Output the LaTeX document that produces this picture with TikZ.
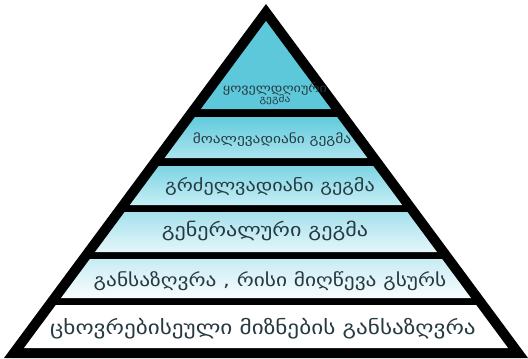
\documentclass[tikz,border=0pt]{standalone}
\usepackage{fontspec}
\newfontfamily\geofont{DejaVu Sans}
\definecolor{txt}{RGB}{38,58,66}
\definecolor{lay1}{RGB}{92,200,218}
\definecolor{lay2t}{RGB}{98,203,220}
\definecolor{lay2b}{RGB}{170,228,238}
\definecolor{lay3t}{RGB}{125,212,227}
\definecolor{lay3b}{RGB}{198,238,245}
\definecolor{lay4t}{RGB}{165,225,236}
\definecolor{lay4b}{RGB}{228,246,250}
\definecolor{lay5t}{RGB}{200,236,243}
\definecolor{lay5b}{RGB}{248,253,254}

\begin{document}
\begin{tikzpicture}[x=1pt,y=-1pt,
  lbl/.style={inner sep=0pt,text=txt,align=center,xscale=1.2,transform shape,
    font=\geofont\fontsize{#1}{#1}\selectfont}]
  \useasboundingbox (0,0) rectangle (528,359);
  % black frame
  \fill[black] (266,4) -- (528,358) -- (4,358) -- cycle;
  % top layer
  \fill[lay1] (266,21) -- (331.1,109) -- (200.9,109) -- cycle;
  % lower layers, half width 0.74*(y-21)
  \foreach \yt/\yb/\ct/\cb in {117/158/lay2t/lay2b, 166/205/lay3t/lay3b,
      212/252/lay4t/lay4b, 259/298/lay5t/lay5b, 305/348/white/white}{
    \pgfmathsetmacro\wt{0.74*(\yt-21)}
    \pgfmathsetmacro\wb{0.74*(\yb-21)}
    \path[top color=\ct,bottom color=\cb] ({266-\wt},\yt) -- ({266+\wt},\yt)
      -- ({266+\wb},\yb) -- ({266-\wb},\yb) -- cycle;
  }
  \node[lbl=11.8] (l1) at (275,94) {ყოველდღიური\\[-1.5pt]{\fontsize{9.5}{9.5}\selectfont გეგმა}};
  \node[lbl=12.8] (l2) at (272,140) {მოალევადიანი გეგმა};
  \node[lbl=16.8] (l3) at (270,186) {გრძელვადიანი გეგმა};
  \node[lbl=18.4] (l4) at (265,231) {გენერალური გეგმა};
  \node[lbl=17.8] (l5) at (270,281) {განსაზღვრა , რისი მიღწევა გსურს};
  \node[lbl=19.3] (l6) at (263,329) {ცხოვრებისეული მიზნების განსაზღვრა};
\end{tikzpicture}
\end{document}
